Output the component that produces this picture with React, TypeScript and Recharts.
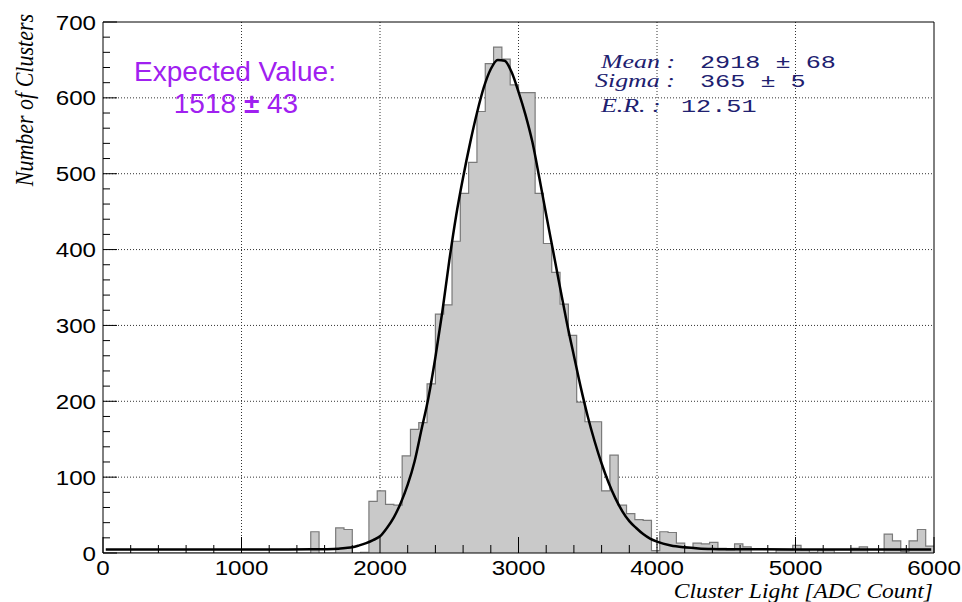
import React from "react";
import {
  ComposedChart,
  Area,
  Line,
  XAxis,
  YAxis,
  CartesianGrid,
  ReferenceLine,
} from "recharts";

// ---- Histogram: 100 bins of width 60 ADC counts, from 0 to 6000 ----
const BIN_START = 0;
const BIN_WIDTH = 60;
const binCounts: number[] = [
  0, 0, 0, 0, 0, 0, 0, 0, 0, 0, // 0 - 600
  0, 0, 0, 0, 0, 0, 0, 0, 0, 0, // 600 - 1200
  0, 0, 0, 0, 0, 28, 0, 0, 33, 31, // 1200 - 1800
  0, 1, 68, 82, 64, 63, 128, 163, 172, 223, // 1800 - 2400
  315, 327, 411, 474, 515, 582, 645, 667, 651, 617, // 2400 - 3000
  607, 607, 474, 408, 370, 328, 287, 199, 173, 173, // 3000 - 3600
  82, 129, 63, 52, 44, 43, 3, 28, 27, 13, // 3600 - 4200
  6, 13, 12, 14, 6, 4, 12, 8, 0, 0, // 4200 - 4800
  0, 4, 4, 10, 4, 1, 4, 4, 0, 0, // 4800 - 5400
  6, 8, 0, 0, 25, 16, 2, 16, 31, 9, // 5400 - 6000
];

// ---- Fitted curve, points ----
const fitX: number[] = [
  20, 500, 1000, 1500, 1600, 1700, 1750, 1800, 1850, 1900, 1950, 2000, 2050,
  2100, 2150, 2200, 2250, 2300, 2350, 2400, 2450, 2500, 2550, 2600, 2650, 2700,
  2750, 2800, 2850, 2900, 2950, 3000, 3050, 3100, 3150, 3200, 3250, 3300, 3350,
  3400, 3450, 3500, 3550, 3600, 3650, 3700, 3750, 3800, 3850, 3900, 3950, 4000,
  4100, 4200, 4300, 4400, 4500, 5000, 5500, 5980,
];
const fitY: number[] = [
  4.5, 4.5, 4.5, 4.8, 5, 5.5, 6.5, 7.5, 10, 13, 17, 22, 33,
  47, 66, 90, 121, 163, 205, 258, 318, 385, 445, 495, 540, 580,
  614, 638, 650, 649, 634, 608, 578, 542, 495, 446, 398, 350, 303,
  260, 218, 180, 147, 118, 93, 72, 55, 42, 33, 25, 19, 15,
  10, 7.5, 6, 5.3, 5, 4.6, 4.5, 4.5,
];

// ---- Axes ----
const xMajorTicks: number[] = [0, 1000, 2000, 3000, 4000, 5000, 6000];
const yMajorTicks: number[] = [0, 100, 200, 300, 400, 500, 600, 700];
const X_MINOR_STEP = 200;
const Y_MINOR_STEP = 20;
const X_DOMAIN: [number, number] = [0, 6000];
const Y_DOMAIN: [number, number] = [0, 700];

const xAllTicks: number[] = [];
for (let v = X_DOMAIN[0]; v <= X_DOMAIN[1]; v += X_MINOR_STEP) xAllTicks.push(v);
const yAllTicks: number[] = [];
for (let v = Y_DOMAIN[0]; v <= Y_DOMAIN[1]; v += Y_MINOR_STEP) yAllTicks.push(v);

const histData = binCounts
  .map((c, i) => ({ x: BIN_START + i * BIN_WIDTH, count: c }))
  .concat([
    {
      x: BIN_START + binCounts.length * BIN_WIDTH,
      count: binCounts[binCounts.length - 1],
    },
  ]);
const fitData = fitX.map((x, i) => ({ x, fit: fitY[i] }));

const SANS = "'Liberation Sans', Arial, Helvetica, sans-serif";
const SERIF = "'Liberation Serif', 'Times New Roman', Times, serif";
const MONO = "'Liberation Mono', 'Courier New', monospace";
const NAVY = "#20206f";

const XTick = (props: any) => {
  const { x, y, payload } = props;
  const v = payload.value as number;
  const major = xMajorTicks.includes(v);
  const len = major ? 16 : 8;
  return (
    <g>
      <line x1={x} y1={y} x2={x} y2={y - len} stroke="#000" strokeWidth={1} />
      {major && (
        <text
          transform={`translate(${x},${y + 22}) scale(1.15,1)`}
          textAnchor="middle"
          fontFamily={SANS}
          fontSize={21}
          fill="#000"
        >
          {v}
        </text>
      )}
    </g>
  );
};

const YTick = (props: any) => {
  const { x, y, payload } = props;
  const v = payload.value as number;
  const major = yMajorTicks.includes(v);
  const len = major ? 14 : 7;
  return (
    <g>
      <line x1={x} y1={y} x2={x + len} y2={y} stroke="#000" strokeWidth={1} />
      {major && (
        <text
          transform={`translate(${x - 7},${y + 7.5}) scale(1.15,1)`}
          textAnchor="end"
          fontFamily={SANS}
          fontSize={21}
          fill="#000"
        >
          {v}
        </text>
      )}
    </g>
  );
};

export default function App() {
  return (
    <div
      style={{
        position: "absolute",
        left: 0,
        top: 0,
        width: 962,
        height: 602,
        background: "#fff",
      }}
    >
      <ComposedChart
        width={962}
        height={602}
        margin={{ top: 22, right: 28, bottom: 19, left: 0 }}
      >
        <CartesianGrid
          stroke="#333"
          strokeDasharray="1 2"
          verticalValues={[1000, 2000, 3000, 4000, 5000]}
          horizontalValues={[100, 200, 300, 400, 500, 600]}
        />
        <XAxis
          dataKey="x"
          type="number"
          domain={X_DOMAIN}
          ticks={xAllTicks}
          interval={0}
          tickSize={0}
          tickMargin={0}
          tickLine={false}
          tick={<XTick />}
          axisLine={{ stroke: "#000", strokeWidth: 1 }}
          height={30}
          allowDataOverflow
        />
        <YAxis
          type="number"
          domain={Y_DOMAIN}
          ticks={yAllTicks}
          interval={0}
          tickSize={0}
          tickMargin={0}
          tickLine={false}
          tick={<YTick />}
          axisLine={{ stroke: "#000", strokeWidth: 1 }}
          width={103}
          allowDataOverflow
        />
        <Area
          data={histData}
          dataKey="count"
          type="stepAfter"
          fill="#c9c9c9"
          fillOpacity={1}
          stroke="#7a7a7a"
          strokeWidth={1.2}
          isAnimationActive={false}
          dot={false}
          activeDot={false}
        />
        <Line
          data={fitData}
          dataKey="fit"
          type="monotone"
          stroke="#000"
          strokeWidth={2.5}
          dot={false}
          activeDot={false}
          isAnimationActive={false}
        />
        <ReferenceLine y={700} stroke="#000" strokeWidth={1} />
        <ReferenceLine x={6000} stroke="#000" strokeWidth={1} />
      </ComposedChart>

      <svg
        width={962}
        height={602}
        style={{ position: "absolute", left: 0, top: 0, pointerEvents: "none" }}
      >
        {/* axis titles */}
        <text
          transform="translate(33,14) rotate(-90) scale(1,1.15)"
          textAnchor="end"
          fontFamily={SERIF}
          fontStyle="italic"
          fontSize={22}
          fill="#000"
        >
          Number of Clusters
        </text>
        <text
          transform="translate(933,598) scale(1.12,1)"
          textAnchor="end"
          fontFamily={SERIF}
          fontStyle="italic"
          fontSize={21}
          fill="#000"
        >
          Cluster Light [ADC Count]
        </text>

        {/* expected value annotation */}
        <text
          x={235}
          y={81}
          textAnchor="middle"
          fontFamily={SANS}
          fontSize={28}
          fill="#a020f0"
        >
          Expected Value:
        </text>
        <text
          x={236}
          y={113}
          textAnchor="middle"
          fontFamily={SANS}
          fontSize={28}
          fill="#a020f0"
        >
          1518 <tspan fontWeight="bold">±</tspan> 43
        </text>

        {/* fit statistics */}
        <text
          transform="translate(601,68) scale(1.4,1)"
          fontFamily={SERIF}
          fontStyle="italic"
          fontSize={18.5}
          fill={NAVY}
          xmlSpace="preserve"
        >
          Mean :
        </text>
        <text
          transform="translate(595,87) scale(1.4,1)"
          fontFamily={SERIF}
          fontStyle="italic"
          fontSize={18.5}
          fill={NAVY}
          xmlSpace="preserve"
        >
          Sigma :
        </text>
        <text
          transform="translate(601,112) scale(1.4,1)"
          fontFamily={SERIF}
          fontStyle="italic"
          fontSize={18.5}
          fill={NAVY}
          xmlSpace="preserve"
        >
          E.R. :
        </text>
        <text
          transform="translate(700,68) scale(1.36,1)"
          fontFamily={MONO}
          fontSize={18.5}
          fill={NAVY}
          xmlSpace="preserve"
        >
          2918 ± 68
        </text>
        <text
          transform="translate(700,87) scale(1.36,1)"
          fontFamily={MONO}
          fontSize={18.5}
          fill={NAVY}
          xmlSpace="preserve"
        >
          365 ± 5
        </text>
        <text
          transform="translate(681,112) scale(1.36,1)"
          fontFamily={MONO}
          fontSize={18.5}
          fill={NAVY}
        >
          12.51
        </text>
      </svg>
    </div>
  );
}
